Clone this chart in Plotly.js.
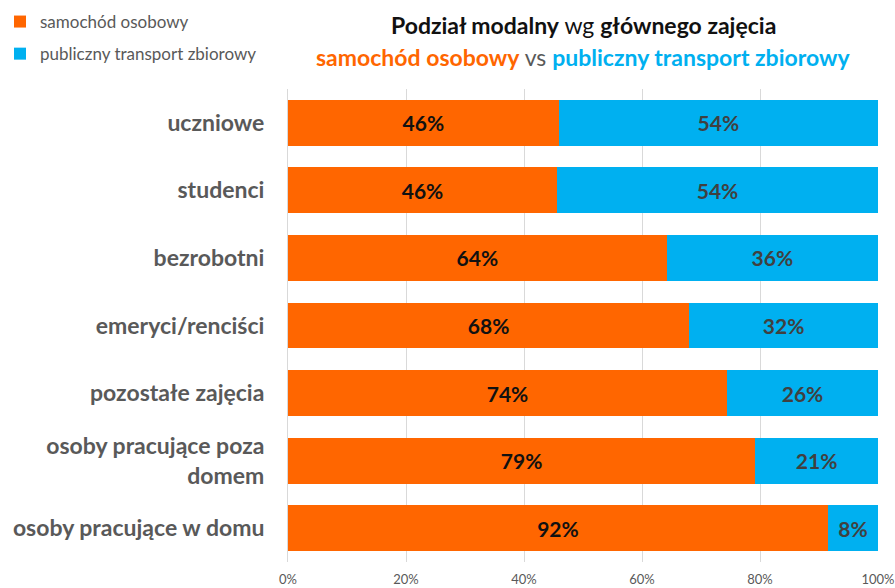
<!DOCTYPE html>
<html><head><meta charset="utf-8">
<script src="https://cdn.plot.ly/plotly-3.0.1.min.js"></script>
<style>html,body{margin:0;padding:0;background:#fff}#c{width:895px;height:588px}</style>
</head><body><div id="c"></div>
<script>
var categories = ["uczniowe","studenci","bezrobotni","emeryci/renciści","pozostałe zajęcia","osoby pracujące poza<br>domem","osoby pracujące w domu"];
var carShare = [45.9, 45.6, 64.2, 68.0, 74.4, 79.2, 91.5];
var transitShare = [54.1, 54.4, 35.8, 32.0, 25.6, 20.8, 8.5];
var carLabels = ["46%","46%","64%","68%","74%","79%","92%"];
var transitLabels = ["54%","54%","36%","32%","26%","21%","8%"];
var xTickVals = [0,20,40,60,80,100];
var xTickText = ["0%","20%","40%","60%","80%","100%"];
var FONT = "Lato, 'Noto Sans', sans-serif";
var traces = [
 {type:"bar", orientation:"h", name:"samochód osobowy", legendgroup:"a", y:categories, x:carShare,
  marker:{color:"#FF6600"}, text:carLabels, textposition:"inside", insidetextanchor:"middle",
  textfont:{family:FONT, size:21, color:"#111111", weight:"bold"}, hoverinfo:"none"},
 {type:"bar", orientation:"h", name:"publiczny transport zbiorowy", legendgroup:"b", y:categories, x:transitShare,
  marker:{color:"#00B0F0"}, text:transitLabels, textposition:"inside", insidetextanchor:"middle",
  textfont:{family:FONT, size:21, color:"#404040", weight:"bold"}, hoverinfo:"none"}
];
var layout = {
 width:895, height:588, barmode:"stack", bargap:0.32,
 margin:{l:288, r:17, t:89, b:26, pad:0},
 paper_bgcolor:"#fff", plot_bgcolor:"#fff",
 font:{family:FONT, color:"#595959"},
 showlegend:true,
 legend:{xref:"container", yref:"container", x:0, y:1-4/588, xanchor:"left", yanchor:"top",
   font:{size:17, color:"#595959"}, itemwidth:30, tracegroupgap:7, traceorder:"grouped",
   bgcolor:"rgba(0,0,0,0)"},
 xaxis:{range:[0,100], tickvals:xTickVals, ticktext:xTickText, showgrid:true, gridcolor:"#d9d9d9",
   ticks:"outside", ticklen:5, tickcolor:"rgba(0,0,0,0)", ticklabeloverflow:"allow",
   zeroline:false, showline:false, tickfont:{size:13, color:"#595959"}, fixedrange:true},
 yaxis:{autorange:"reversed", tickfont:{size:23, color:"#595959", weight:"bold"}, ticklabelstandoff:18,
   showline:true, linecolor:"#d9d9d9", showgrid:false, fixedrange:true},
 annotations:[
  {xref:"paper", yref:"paper", x:0.5, y:(562-25)/473, yanchor:"middle", showarrow:false,
   text:"<b>Podział modalny</b> wg <b>głównego zajęcia</b>", font:{size:23, color:"#111111", family:FONT}},
  {xref:"paper", yref:"paper", x:0.5, y:(562-57)/473, yanchor:"middle", showarrow:false,
   text:"<span style='color:#FF6600'><b>samochód osobowy</b></span> <span style='color:#595959'>vs</span> <span style='color:#00B0F0'><b>publiczny transport zbiorowy</b></span>",
   font:{size:23, family:FONT}}
 ]
};
Plotly.newPlot("c", traces, layout, {displayModeBar:false, staticPlot:true});
</script></body></html>
